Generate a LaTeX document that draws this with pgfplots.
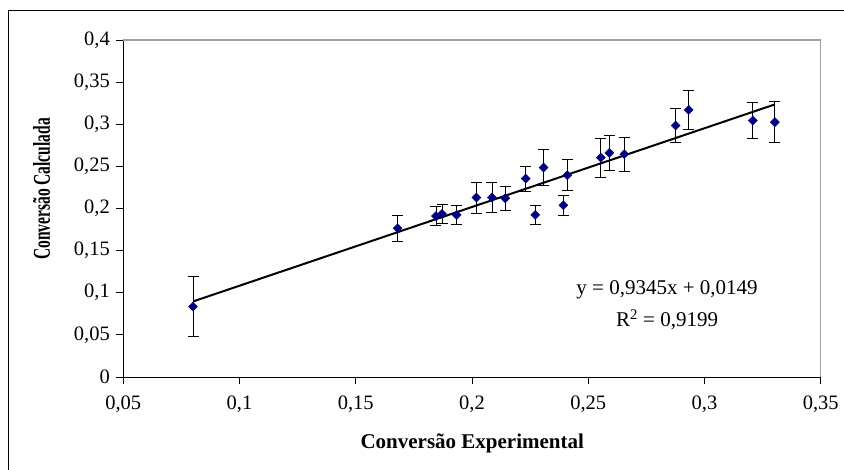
\documentclass[border=0pt]{standalone}
\usepackage{fontspec}
\setmainfont{Liberation Serif}
\usepackage{graphicx}
\usepackage{pgfplots}
\pgfplotsset{compat=1.18}
\usepackage{pgfplotstable}

\definecolor{markblue}{HTML}{000080}
\definecolor{framegray}{HTML}{A0A0A0}

% experimental conversion, calculated conversion, error (half-width)
\pgfplotstableread{
x      y      e
0.0800 0.0835 0.0357
0.1680 0.1765 0.0153
0.1845 0.1910 0.0115
0.1871 0.1936 0.0110
0.1934 0.1924 0.0112
0.2019 0.2130 0.0183
0.2086 0.2130 0.0180
0.2143 0.2122 0.0145
0.2231 0.2355 0.0150
0.2272 0.1924 0.0116
0.2308 0.2486 0.0218
0.2393 0.2039 0.0116
0.2410 0.2395 0.0182
0.2554 0.2605 0.0231
0.2591 0.2660 0.0210
0.2655 0.2645 0.0203
0.2876 0.2985 0.0199
0.2932 0.3170 0.0236
0.3208 0.3044 0.0210
0.3303 0.3025 0.0240
}\conversao

\begin{document}
\begin{tikzpicture}
\useasboundingbox (-123.3pt,-92pt) rectangle (720.7pt,377pt);
% chart frame (top and left edges)
\draw[black, line width=1.3pt] (-115pt,-100pt) -- (-115pt,366.3pt) -- (730pt,366.3pt);
\begin{axis}[
  at={(0pt,0pt)}, anchor=south west,
  scale only axis, width=697.4pt, height=337pt,
  xmin=0.05, xmax=0.35, ymin=0, ymax=0.4,
  xtick={0.05,0.1,0.15,0.2,0.25,0.3,0.35},
  xticklabels={{0,05},{0,1},{0,15},{0,2},{0,25},{0,3},{0,35}},
  ytick={0,0.05,0.1,0.15,0.2,0.25,0.3,0.35,0.4},
  yticklabels={{0},{0,05},{0,1},{0,15},{0,2},{0,25},{0,3},{0,35},{0,4}},
  axis x line*=bottom, axis y line*=left,
  axis line style={-, black, line width=1pt},
  tick align=outside, major tick length=7pt,
  tick style={black, line width=0.9pt},
  ticklabel style={font=\fontsize{20.5}{24}\selectfont},
  yticklabel style={xshift=-3pt},
  xticklabel style={yshift=-8pt},
  xlabel={Conversão Experimental},
  ylabel={\scalebox{0.74}[1.15]{Conversão Calculada}},
  label style={font=\bfseries\fontsize{21}{25}\selectfont},
  xlabel style={at={(axis description cs:0.5004,-0.196)}, anchor=center},
  ylabel style={at={(axis description cs:-0.117,0.558)}, anchor=center},
  clip=false,
]
% plot area border
\draw[framegray, line width=1.2pt] (rel axis cs:0,1) -- (rel axis cs:1,1) -- (rel axis cs:1,0);

\addplot[only marks, mark=square*, mark size=3.2pt,
  mark options={rotate=45, fill=markblue, draw=markblue},
  error bars/.cd, y dir=both, y explicit,
  error bar style={black, line width=0.9pt},
  error mark options={rotate=90, black, mark size=5.5pt, line width=0.9pt}]
  table[x=x, y=y, y error=e] {\conversao};

% linear trend line
\addplot[black, line width=2pt, no marks] coordinates {(0.08,0.08966) (0.3303,0.32357)};

\node[font=\fontsize{21}{25}\selectfont] at (axis cs:0.2839,0.1033) {y = 0,9345x + 0,0149};
\node[font=\fontsize{21}{25}\selectfont] at (axis cs:0.2839,0.0677) {R\textsuperscript{2} = 0,9199};
\end{axis}
\end{tikzpicture}
\end{document}
